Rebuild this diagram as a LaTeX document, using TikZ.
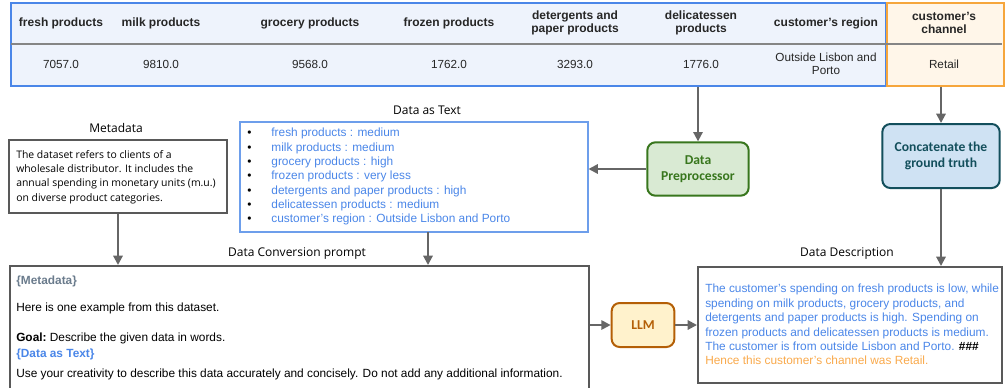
\documentclass[tikz,border=0pt]{standalone}
\usepackage{fontspec}
\setmainfont{Liberation Sans}
\newfontfamily\labfont{Open Sans}
\newfontfamily\boxfont{Carlito}
\usetikzlibrary{arrows.meta}
\definecolor{tblue}{HTML}{4A86E8}
\definecolor{tfill}{HTML}{EEF3FC}
\definecolor{lblue}{HTML}{6D9EEB}
\definecolor{corange}{HTML}{F6A63C}
\definecolor{ofill}{HTML}{FFF6E9}
\definecolor{arrgray}{HTML}{666666}
\definecolor{boxgray}{HTML}{595959}
\definecolor{pgreen}{HTML}{38761D}
\definecolor{pfill}{HTML}{D9EAD3}
\definecolor{cteal}{HTML}{134F5C}
\definecolor{cfill}{HTML}{CFE2F3}
\definecolor{lbrown}{HTML}{B45F06}
\definecolor{lfill}{HTML}{FFF2CC}
\definecolor{mgray}{HTML}{6A7B8C}
\definecolor{otext}{HTML}{F9A94B}
\tikzset{
  arr/.style={draw=arrgray, line width=1.5pt, -{Triangle[length=7pt,width=7pt]}},
  hdr/.style={font=\fontsize{9}{10}\selectfont\bfseries, align=center, text=black!85},
  val/.style={font=\fontsize{8.8}{10}\selectfont, align=center, text=black!85},
  lab/.style={font=\labfont\fontsize{9}{10}\selectfont},
  plain/.style={draw=boxgray, line width=1.5pt},
  procbox/.style={rounded corners=6pt, line width=1.5pt, align=center,
    font=\boxfont\fontsize{10.2}{12}\selectfont\bfseries},
  ptext/.style={anchor=west, inner sep=0pt, font=\fontsize{8.9}{10}\selectfont}
}
\begin{document}
\begin{tikzpicture}[x=0.75pt,y=-0.75pt]
\useasboundingbox (0,0) rectangle (1005,387);
\node (tab) [draw=tblue, line width=1.6pt, fill=tfill, anchor=north west,
  minimum width=656pt, minimum height=62pt, inner sep=0pt] at (10,2) {};
\node (chan) [draw=corange, line width=1.6pt, fill=ofill, anchor=north west,
  minimum width=88pt, minimum height=62pt, inner sep=0pt] at (886,2) {};
\draw [draw=arrgray!80, line width=0.8pt] (11,44) -- (1002,44);
\foreach \x/\h/\v [count=\i] in {61/fresh products/7057.0, 161/milk products/9810.0,
    310/grocery products/9568.0, 449/frozen products/1762.0,
    575/{detergents and\\paper products}/3293.0, 701/{delicatessen\\products}/1776.0,
    826/customer's region/{Outside Lisbon and\\Porto}, 944/{customer's\\channel}/Retail}
  {
  \node (h\i) [hdr] at (\x,23) {\h};
  \node (v\i) [val] at (\x,64) {\v};
  }

\node (pre) [procbox, draw=pgreen, fill=pfill, text=pgreen,
  minimum width=76pt, minimum height=40pt] at (698,169) {Data\\Preprocessor};
\node (cat) [procbox, draw=cteal, fill=cfill, text=cteal,
  minimum width=88pt, minimum height=48pt] at (941,156) {Concatenate the\\ground truth};
\node (llm) [procbox, draw=lbrown, fill=lfill, text=lbrown,
  minimum width=47pt, minimum height=33pt] at (643,325) {LLM};

\node (dat) [draw=lblue, line width=1.5pt, minimum width=261pt, minimum height=82pt] at (413.5,177) {};
\node [lab] at (427,110) {Data as Text};
\node (datlist) [anchor=north west, inner sep=0pt, align=left,
  font=\fontsize{8.9}{10.75}\selectfont] at (247,128) {%
  \textbullet\hspace{15pt}\textcolor{tblue}{fresh products : medium}\\
  \textbullet\hspace{15pt}\textcolor{tblue}{milk products : medium}\\
  \textbullet\hspace{15pt}\textcolor{tblue}{grocery products : high}\\
  \textbullet\hspace{15pt}\textcolor{tblue}{frozen products : very less}\\
  \textbullet\hspace{15pt}\textcolor{tblue}{detergents and paper products : high}\\
  \textbullet\hspace{15pt}\textcolor{tblue}{delicatessen products : medium}\\
  \textbullet\hspace{15pt}\textcolor{tblue}{customer's region : Outside Lisbon and Porto}};

\node (meta) [plain, minimum width=163pt, minimum height=55pt] at (118,176.5) {};
\node [lab] at (116,128) {Metadata};
\node (metatext) [anchor=north west, inner sep=0pt, align=left,
  font=\labfont\fontsize{7.8}{10.75}\selectfont] at (16,150) {%
  The dataset refers to clients of a\\
  wholesale distributor. It includes the\\
  annual spending in monetary units (m.u.)\\
  on diverse product categories.};

\node (prm) [plain, anchor=north west, minimum width=434pt, minimum height=96pt] at (9,265) {};
\node [lab] at (297,254) {Data Conversion prompt};
\node (p1) [ptext, text=mgray, font=\fontsize{8.9}{10}\selectfont\bfseries] at (16,281) {\{Metadata\}};
\node (p2) [ptext] at (16,308) {Here is one example from this dataset.};
\node (p3) [ptext] at (16,338) {\textbf{Goal:}~Describe the given data in words.};
\node (p4) [ptext, text=tblue, font=\fontsize{8.9}{10}\selectfont\bfseries] at (16,354) {\{Data as Text\}};
\node (p5) [ptext] at (16,374) {Use your creativity to describe this data accurately and concisely. Do not add any additional information.};

\node (desc) [plain, anchor=north west, minimum width=228pt, minimum height=87pt] at (697,266) {};
\node [lab] at (847,254) {Data Description};
\node (desctext) [anchor=north west, inner sep=0pt, align=left, text=tblue,
  font=\fontsize{8.9}{10.8}\selectfont] at (705,284) {%
  The customer's spending on fresh products is low, while\\
  spending on milk products, grocery products, and\\
  detergents and paper products is high. Spending on\\
  frozen products and delicatessen products is medium.\\
  The customer is from outside Lisbon and Porto. \textcolor{black}{\textbf{\#\#\#}}\\
  \textcolor{otext}{Hence this customer's channel was Retail.}};

\coordinate (dtap) at (428,232);
\draw [arr] (tab.south -| pre) -- (pre.north);
\draw [arr] (pre.west) -- (pre.west -| dat.east);
\draw [arr] (chan.south -| cat) -- (cat.north);
\draw [arr] (cat.south) -- (cat.south |- desc.north);
\draw [arr] (meta.south) -- (meta.south |- prm.north);
\draw [arr] (dtap) -- (dtap |- prm.north);
\draw [arr] (llm.west -| prm.east) -- (llm.west);
\draw [arr] (llm.east) -- (llm.east -| desc.west);
\end{tikzpicture}
\end{document}
